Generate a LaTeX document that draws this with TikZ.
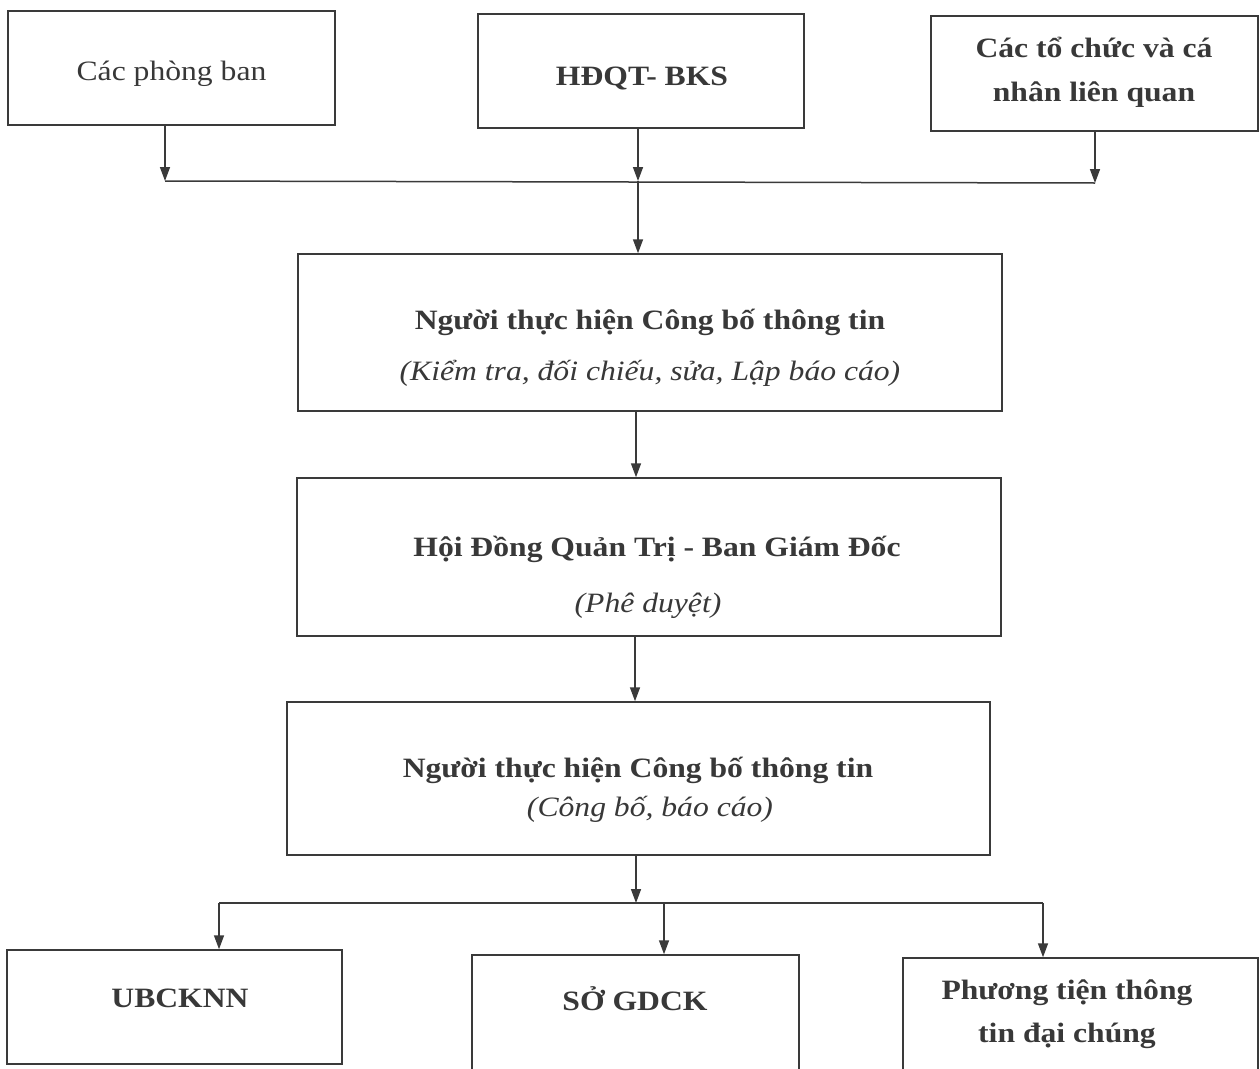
\documentclass[tikz,border=0pt]{standalone}
\usepackage{fontspec}
\setmainfont{Liberation Serif}[FakeStretch=1.13]
\usetikzlibrary{arrows.meta}
\definecolor{ink}{HTML}{3A3A3A}
\definecolor{txtc}{HTML}{383838}
\begin{document}
\begin{tikzpicture}[x=1pt,y=-1pt,
  box/.style={draw=ink,line width=1.5pt,rectangle,inner sep=0pt},
  txt/.style={text=txtc,font=\fontsize{28}{32}\selectfont\bfseries,anchor=base,inner sep=0pt},
  rtx/.style={txt,font=\fontsize{28}{32}\selectfont},
  itx/.style={txt,font=\fontsize{28}{32}\selectfont\itshape},
  arr/.style={draw=ink,line width=1.5pt,-{Triangle[length=14pt,width=10pt]}},
  ln/.style={draw=ink,line width=1.5pt}]
\useasboundingbox[fill=white] (0,0) rectangle (1260,1068);

% boxes
\node[box,minimum width=327pt,minimum height=114pt] (A) at (171.5,68) {};
\node[box,minimum width=326pt,minimum height=114pt] (B) at (641,71) {};
\node[box,minimum width=327pt,minimum height=115pt] (C) at (1094.5,73.5) {};
\node[box,minimum width=704pt,minimum height=157pt] (D) at (650,332.5) {};
\node[box,minimum width=704pt,minimum height=158pt] (E) at (649,557) {};
\node[box,minimum width=703pt,minimum height=153pt] (F) at (638.5,778.5) {};
\node[box,minimum width=335pt,minimum height=114pt] (G) at (174.5,1007) {};
\node[box,minimum width=327pt,minimum height=124pt] (H) at (635.5,1017) {};
\node[box,minimum width=355pt,minimum height=120pt] (I) at (1080.5,1018) {};

% texts
\node[rtx] (tA) at (171.5,80) {Các phòng ban};
\node[txt] (tB) at (642,85) {HĐQT- BKS};
\node[txt] (tC1) at (1094,57) {Các tổ chức và cá};
\node[txt] (tC2) at (1094,101) {nhân liên quan};
\node[txt] (tD1) at (650,329) {Người thực hiện Công bố thông tin};
\node[itx] (tD2) at (650,380) {(Kiểm tra, đối chiếu, sửa, Lập báo cáo)};
\node[txt] (tE1) at (657,556) {Hội Đồng Quản Trị - Ban Giám Đốc};
\node[itx] (tE2) at (648,612) {(Phê duyệt)};
\node[txt] (tF1) at (638,777) {Người thực hiện Công bố thông tin};
\node[itx] (tF2) at (650,816) {(Công bố, báo cáo)};
\node[txt] (tG) at (180,1007) {UBCKNN};
\node[txt] (tH) at (635,1010) {SỞ GDCK};
\node[txt] (tI1) at (1067,999) {Phương tiện thông};
\node[txt] (tI2) at (1067,1042) {tin đại chúng};

% junctions
\coordinate (ja) at (165,181);
\coordinate (jb) at (638,181);
\coordinate (jc) at (1095,183);
\coordinate (xde) at (636,0);
\coordinate (xef) at (635,0);
\coordinate (jf) at (636,903);
\coordinate (jg) at (219,903);
\coordinate (jh) at (664,903);
\coordinate (ji) at (1043,903);

% connectors
\draw[arr] (A.south -| ja) -- (ja);
\draw[arr] (B.south -| jb) -- (jb);
\draw[arr] (C.south -| jc) -- (jc);
\draw[ln] (ja) -- (jc);
\draw[arr] (jb) -- (D.north -| jb);
\draw[arr] (D.south -| xde) -- (E.north -| xde);
\draw[arr] (E.south -| xef) -- (F.north -| xef);
\draw[arr] (F.south -| jf) -- (jf);
\draw[ln] (jg) -- (ji);
\draw[arr] (jg) -- (G.north -| jg);
\draw[arr] (jh) -- (H.north -| jh);
\draw[arr] (ji) -- (I.north -| ji);
\end{tikzpicture}
\end{document}
